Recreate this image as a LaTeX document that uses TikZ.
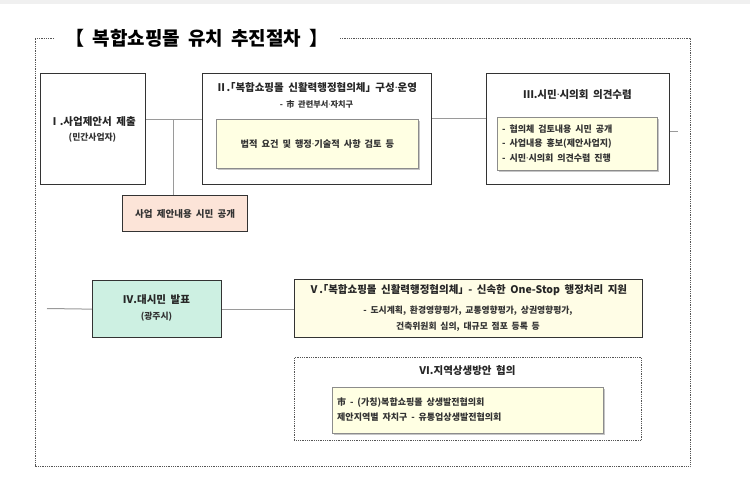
\documentclass[tikz,border=0pt]{standalone}
\usepackage{fontspec}
\setmainfont[WordSpace=1.9]{Noto Sans CJK KR}
\newfontfamily\latinfont{Noto Sans}
\newcommand{\mdot}{{\latinfont ·}}
\newcommand{\lcb}{｢}
\newcommand{\rcb}{｣}
\usetikzlibrary{shadows}
\definecolor{frame}{HTML}{555555}
\definecolor{conn}{HTML}{9A9A9A}
\definecolor{boxline}{HTML}{333333}
\definecolor{inyellow}{HTML}{FFFFE3}
\definecolor{pinkfill}{HTML}{FCE4D8}
\definecolor{tealfill}{HTML}{CDF0E2}
\definecolor{vfill}{HTML}{FFFDE6}
\definecolor{innerline}{HTML}{8C8C8C}
\tikzset{
  mainbox/.style={draw=boxline, line width=1.3pt, anchor=north west, inner sep=0pt},
  innerbox/.style={draw=innerline, line width=0.8pt, fill=inyellow, anchor=north west, inner sep=0pt,
    drop shadow={shadow xshift=1.2pt, shadow yshift=-1.2pt, fill=gray!45, opacity=1}},
  conn/.style={draw=conn, line width=1pt},
  dotframe/.style={draw=frame, line width=0.8pt, densely dotted},
  head/.style={font=\bfseries\fontsize{10.5}{12}\selectfont, inner sep=0pt, text=black!85},
  sub/.style={font=\bfseries\fontsize{8.8}{10}\selectfont, inner sep=0pt, text=black!80},
}
\begin{document}
\begin{tikzpicture}[x=1pt,y=-1pt]
\useasboundingbox (0,0) rectangle (750,489);
\fill[gray!12] (0,0) rectangle (750,4);
% outer dotted frame
\node[font=\bfseries\fontsize{19}{22}\selectfont, inner sep=0pt] (title) at (197,38) {【 복합쇼핑몰 유치 추진절차 】};
\coordinate (fl) at (54,38);
\coordinate (fr) at (340,38);
\draw[dotframe] (fl) -- (35,38) -- (35,466) -- (690,466) -- (690,38) -- (fr);
% Box I
\node[mainbox, minimum width=105, minimum height=111] (b1) at (40,73) {};
\node[head] (b1t) at (92.5,122) {Ⅰ.사업제안서 제출};
\node[sub] (b1s) at (92.5,137.5) {(민간사업자)};
% Box II
\node[mainbox, minimum width=229, minimum height=111] (b2) at (202,73) {};
\node[head] (b2t) at (316.5,88) {Ⅱ.\lcb 복합쇼핑몰 신활력행정협의체\rcb\ 구성\mdot 운영};
\node[sub, font=\bfseries\fontsize{8.2}{10}\selectfont] (b2s) at (316.5,104.5) {- 市 관련부서\mdot 자치구};
\node[innerbox, minimum width=202, minimum height=49] (b2i) at (216,119) {};
\node[sub, font=\bfseries\fontsize{9.2}{10}\selectfont] (b2it) at (b2i.center) {법적 요건 및 행정\mdot 기술적 사항 검토 등};
% pink
\node[draw=boxline, line width=1.2pt, fill=pinkfill, anchor=north west, minimum width=125, minimum height=36, inner sep=0pt] (pk) at (122,195) {};
\node[sub, font=\bfseries\fontsize{9.5}{11}\selectfont] (pkt) at (pk.center) {사업 제안내용 시민 공개};
% Box III
\node[mainbox, minimum width=183, minimum height=111] (b3) at (486,73) {};
\node[head] (b3t) at (577.5,94.5) {Ⅲ.시민\mdot 시의회 의견수렴};
\node[innerbox, minimum width=160, minimum height=53] (b3i) at (497,117) {};
\node[sub, font=\bfseries\fontsize{9}{14.5}\selectfont, align=left, anchor=west] (b3it) at (502,143.5) {- 협의체 검토내용 시민 공개\\- 사업내용 홍보(제안사업지)\\- 시민\mdot 시의회 의견수렴 진행};
% connectors row 1
\coordinate (j1) at (173,120);
\coordinate (j2) at (458,119);
\coordinate (s3) at (678,132);
\draw[conn] (b1.east|-j1) -- (b2.west|-j1);
\draw[conn] (j1) -- (j1|-pk.north);
\draw[conn] (b2.east|-j2) -- (b3.west|-j2);
\draw[conn] (b3.east|-s3) -- (s3);
% Box IV
\node[mainbox, fill=tealfill, minimum width=129, minimum height=57] (b4) at (92,280) {};
\node[head] (b4t) at (156.5,300) {Ⅳ.대시민 발표};
\node[sub] (b4s) at (156.5,317) {(광주시)};
% Box V
\node[mainbox, fill=vfill, minimum width=348, minimum height=58] (b5) at (294,279) {};
\node[head] (b5t) at (468,290.5) {Ⅴ.\lcb 복합쇼핑몰 신활력행정협의체\rcb\ - 신속한 One-Stop 행정처리 지원};
\node[sub] (b5s1) at (468,311) {- 도시계획, 환경영향평가, 교통영향평가, 상권영향평가,};
\node[sub] (b5s2) at (468,327) {건축위원회 심의, 대규모 점포 등록 등};
% row 2 connectors
\coordinate (s4) at (47,308.5);
\draw[conn] (s4) -- (b4.west);
\draw[conn] (b4.east) -- (b5.west|-b4.east);
% Box VI
\node[dotframe, anchor=north west, minimum width=347, minimum height=83, inner sep=0pt] (b6) at (294,357) {};
\node[head] (b6t) at (467.5,371) {Ⅵ.지역상생방안 협의};
\node[innerbox, minimum width=271, minimum height=46] (b6i) at (332,387) {};
\node[sub, font=\bfseries\fontsize{9}{15}\selectfont, align=left, anchor=west] (b6it) at (337,410) {市 - (가칭)복합쇼핑몰 상생발전협의회\\제안지역별 자치구 - 유통업상생발전협의회};
\end{tikzpicture}
\end{document}
